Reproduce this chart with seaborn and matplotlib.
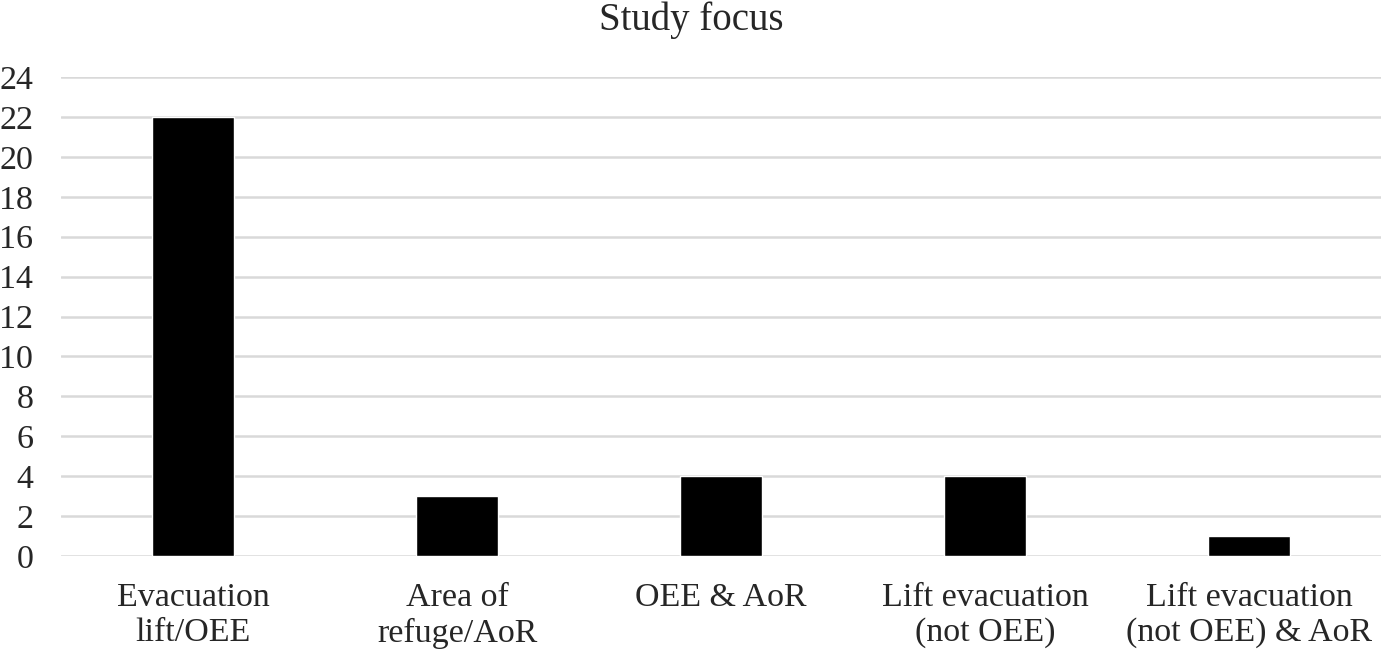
import numpy as np
import pandas as pd
import matplotlib
matplotlib.use("Agg")
import matplotlib.pyplot as plt
import seaborn as sns

categories = ["Evacuation\nlift/OEE", "Area of\nrefuge/AoR", "OEE & AoR",
              "Lift evacuation\n(not OEE)", "Lift evacuation\n(not OEE) & AoR"]
counts = [22, 3, 4, 4, 1]
yticks = list(range(0, 25, 2))

sns.set_style("white")
plt.rcParams["font.family"] = ["Liberation Serif", "DejaVu Serif"]

df = pd.DataFrame({"focus": categories, "count": counts})

fig = plt.figure(figsize=(13.82, 6.55), dpi=100)
ax = fig.add_axes([0.0441, 0.151, 0.9552, 0.7314])

ax.set_axisbelow(True)
sns.barplot(data=df, x="focus", y="count", color="black", width=0.31,
            saturation=1, ax=ax)

ax.set_ylim(0, 24)
ax.set_yticks(yticks)
ax.grid(axis="y", color="#d9d9d9", linewidth=1.8)
ax.grid(axis="x", visible=False)
for s in ["top", "right", "left", "bottom"]:
    ax.spines[s].set_visible(False)
ax.tick_params(axis="y", length=0, pad=20, labelsize=24.5)
ax.tick_params(axis="x", length=0, pad=19, labelsize=24.5)
ax.set_xlabel("")
ax.set_ylabel("")
fig.suptitle("Study focus", fontsize=28, y=0.998, va="top")

fig.savefig("out.png", dpi=100)
